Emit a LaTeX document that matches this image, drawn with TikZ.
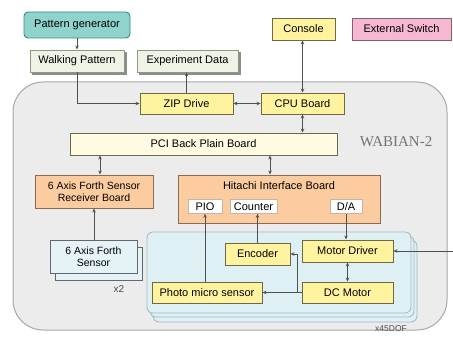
\documentclass[tikz,border=0pt]{standalone}
\usepackage{fontspec}
\setmainfont{Liberation Sans}
\newfontfamily\serifw{Liberation Serif}
\usetikzlibrary{arrows.meta}
\definecolor{tealF}{HTML}{8FD3CC}\definecolor{tealD}{HTML}{3A8A85}
\definecolor{paleG}{HTML}{EEF3E6}\definecolor{paleGD}{HTML}{8A9A80}
\definecolor{yelF}{HTML}{FFF3A0}\definecolor{yelD}{HTML}{6A6A48}
\definecolor{pinkF}{HTML}{F5B8D0}\definecolor{pinkD}{HTML}{806070}
\definecolor{bigF}{HTML}{ECECEC}\definecolor{bigD}{HTML}{A8A8A8}
\definecolor{creamF}{HTML}{FFFBE3}
\definecolor{oraF}{HTML}{FBCC9F}\definecolor{oraD}{HTML}{8A6A50}
\definecolor{bluF}{HTML}{DFF0F4}\definecolor{bluD}{HTML}{A0B8C0}
\definecolor{senF}{HTML}{E5F2F6}\definecolor{senD}{HTML}{606870}
\definecolor{lineC}{HTML}{505050}
\tikzset{
  bx/.style={draw, line width=0.9pt, inner sep=1pt, align=center,
    font=\fontsize{11}{12.5}\selectfont},
  ybox/.style={bx, fill=yelF, draw=yelD},
  gbox/.style={bx, fill=paleG, draw=paleGD},
  obox/.style={bx, fill=oraF, draw=oraD},
  wbox/.style={bx, fill=white, draw=oraD!50, line width=0.6pt},
  conn/.style={draw=lineC, line width=0.7pt},
  arr/.style={conn, -{Stealth[length=4pt,width=3.5pt]}},
  arrb/.style={conn, {Stealth[length=4pt,width=3.5pt]}-{Stealth[length=4pt,width=3.5pt]}},
}
\begin{document}
\begin{tikzpicture}[x=1pt,y=-1pt]
\useasboundingbox (0,0) rectangle (453,337);
% big WABIAN-2 frame
\draw[fill=bigF, draw=bigD, line width=1pt, rounded corners=30pt] (13,82) rectangle (447,330);
\node[font=\serifw\fontsize{15}{16}\selectfont, text=black!55] (wab) at (396,142) {WABIAN-2};
% top row
\node[bx, fill=tealF, draw=tealD, rounded corners=4pt, minimum width=106pt, minimum height=26pt] (pg) at (77,25) {Pattern generator};
\node[gbox, fill=black!45, draw=black!45, minimum width=94pt, minimum height=22pt] (wps) at (79,63) {};
\node[gbox, minimum width=94pt, minimum height=22pt] (wp) at (77,61) {Walking Pattern};
\node[gbox, fill=black!45, draw=black!45, minimum width=101pt, minimum height=22pt] (eds) at (189.5,63) {};
\node[gbox, minimum width=101pt, minimum height=22pt] (ed) at (187.5,61) {Experiment Data};
\node[ybox, minimum width=63pt, minimum height=22pt] (con) at (303.5,29) {Console};
\node[bx, fill=pinkF, draw=pinkD, minimum width=99pt, minimum height=22pt] (ext) at (401.5,29) {External Switch};
% boards
\node[ybox, minimum width=93pt, minimum height=21pt] (zip) at (186.5,103.5) {ZIP Drive};
\node[ybox, minimum width=83pt, minimum height=21pt] (cpu) at (302.5,103.5) {CPU Board};
\node[bx, fill=creamF, draw=yelD, minimum width=267pt, minimum height=22pt] (pci) at (203.5,144) {PCI Back Plain Board};
\node[obox, minimum width=118pt, minimum height=33pt, font=\fontsize{10.5}{12}\selectfont] (rcv) at (94,191.5) {6 Axis Forth Sensor\\Receiver Board};
\node[obox, minimum width=202pt, minimum height=48pt] (hit) at (279,199) {};
\node[font=\fontsize{11}{12.5}\selectfont] (hitt) at (279,186) {Hitachi Interface Board};
\node[wbox, minimum width=34pt, minimum height=14pt] (pio) at (205,206.5) {PIO};
\node[wbox, minimum width=47pt, minimum height=14pt] (cnt) at (253.5,206.5) {Counter};
\node[wbox, minimum width=32pt, minimum height=14pt] (da) at (346,206.5) {D/A};
% motor unit (stacked x45)
\draw[fill=bluF, draw=bluD, line width=0.8pt, rounded corners=6pt] (153,240) rectangle (417,322);
\draw[fill=bluF, draw=bluD, line width=0.8pt, rounded corners=6pt] (150,236) rectangle (414,317);
\draw[fill=bluF, draw=bluD, line width=0.8pt, rounded corners=6pt] (147,232) rectangle (411,313);
\node[ybox, minimum width=65pt, minimum height=22pt] (enc) at (257.5,254) {Encoder};
\node[ybox, minimum width=91pt, minimum height=22pt] (md) at (347.5,251) {Motor Driver};
\node[ybox, minimum width=110pt, minimum height=21pt] (pms) at (207,292.5) {Photo micro sensor};
\node[ybox, minimum width=91pt, minimum height=21pt] (dcm) at (347.5,292.5) {DC Motor};
\node[font=\fontsize{8.5}{10}\selectfont, text=black!70] (dof) at (391,329) {x45DOF};
% force sensor (stacked x2)
\node[bx, fill=senF, draw=senD, minimum width=87pt, minimum height=33pt] (sens) at (98.5,263.5) {};
\node[bx, fill=senF, draw=senD, minimum width=87pt, minimum height=33pt, font=\fontsize{10.5}{12}\selectfont] (sen) at (93.5,256.5) {6 Axis Forth\\Sensor};
\node[font=\fontsize{10}{11}\selectfont, text=black!70] (x2) at (119,289) {x2};
% connectors
\coordinate (xa) at (270,0);
\coordinate (xb) at (100,0);
\coordinate (xc) at (297,0);
\coordinate (ein) at (453,251);
\draw[arr] (pg) -- (wp);
\draw[arr] (wp.south) |- (zip.west);
\draw[arr] (zip.north) -- (zip.north |- ed.south);
\draw[arrb] (cpu.north) -- (cpu.north |- con.south);
\draw[arrb] (zip.east) -- (cpu.west);
\draw[arrb] (cpu.south) -- (cpu.south |- pci.north);
\draw[arrb] (pci.south -| xa) -- (hit.north -| xa);
\draw[arrb] (pci.south -| xb) -- (rcv.north -| xb);
\draw[arr] (sen.north -| rcv.south) -- (rcv.south);
\draw[arr] (pio.south |- pms.north) -- (pio.south);
\draw[arr] (enc.north) -- (enc.north |- cnt.south);
\draw[arr] (da.south) -- (da.south |- md.north);
\draw[arrb] (md.south) -- (dcm.north);
\draw[arr] (dcm.west) -- (pms.east);
\draw[arr] (dcm.west -| xc) |- (enc.east);
\draw[arr] (ein) -- (md.east);
\end{tikzpicture}
\end{document}
